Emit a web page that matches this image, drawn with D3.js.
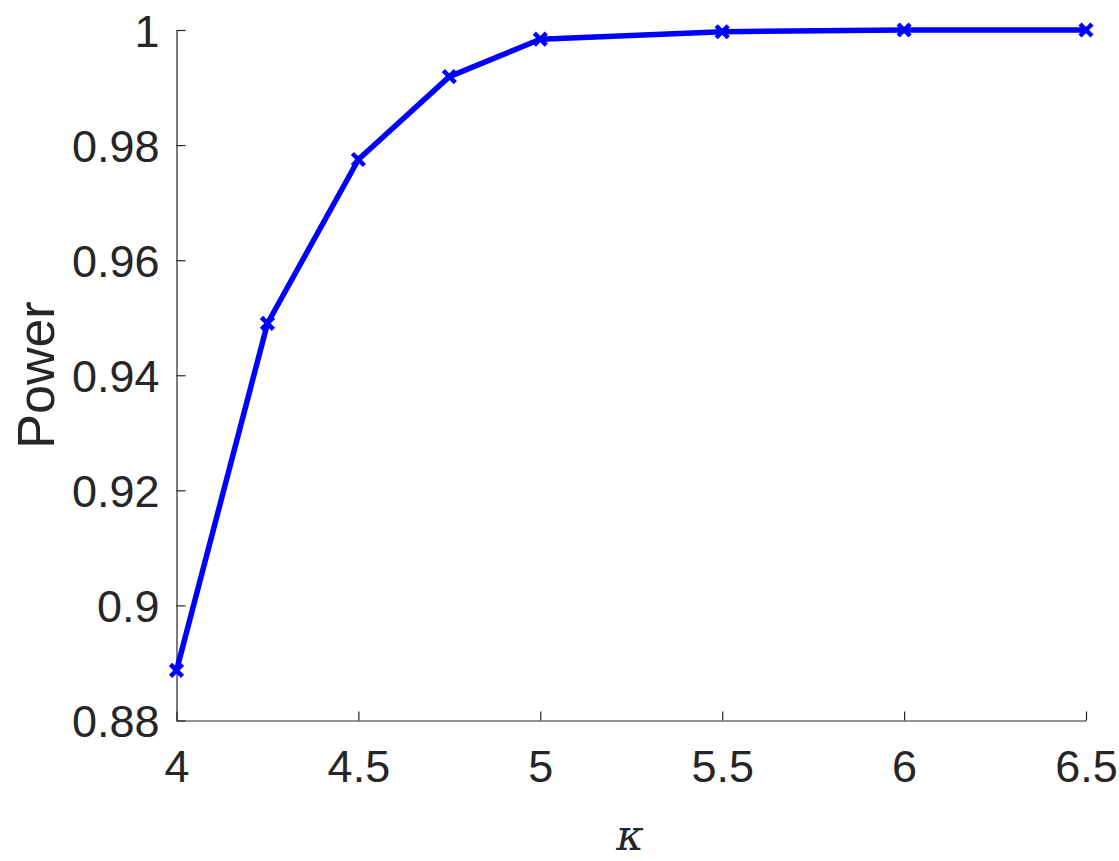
<!DOCTYPE html>
<html><head><meta charset="utf-8">
<script src="https://cdn.jsdelivr.net/npm/d3@7"></script>
<style>body{margin:0;background:#fff;} svg{display:block;}</style>
</head><body>
<script>
const kappa = [4, 4.25, 4.5, 4.75, 5, 5.5, 6, 6.5];
const power = [0.8887, 0.9490, 0.9775, 0.9919, 0.9984, 0.9997, 1.0, 1.0];
const xTicks = [4, 4.5, 5, 5.5, 6, 6.5];
const yTicks = [0.88, 0.9, 0.92, 0.94, 0.96, 0.98, 1];

const W = 1119, H = 861;
const svg = d3.select("body").append("svg").attr("width", W).attr("height", H);
const x = d3.scaleLinear().domain([4, 6.5]).range([176.5, 1086]);
const y = d3.scaleLinear().domain([0.88, 1]).range([720.5, 30]);
const axColor = "#262626";
const font = "'Liberation Sans', Arial, Helvetica, sans-serif";

const xAxis = svg.append("g").attr("transform", `translate(0,${y(0.88)})`)
  .call(d3.axisBottom(x).tickValues(xTicks).tickSizeInner(-9).tickSizeOuter(0).tickPadding(30)
    .tickFormat(d => d3.format("")(d)));
const yAxis = svg.append("g").attr("transform", `translate(${x(4)},0)`)
  .call(d3.axisLeft(y).tickValues(yTicks).tickSizeInner(-9).tickSizeOuter(0).tickPadding(17)
    .tickFormat(d => d3.format("")(d)));
[xAxis, yAxis].forEach(g => {
  g.select(".domain").attr("stroke", axColor).attr("stroke-width", 1.2);
  g.selectAll(".tick line").attr("stroke", axColor).attr("stroke-width", 1.2);
  g.selectAll(".tick text").attr("fill", axColor).style("font-family", font).style("font-size", "45px");
});
xAxis.selectAll(".tick text").attr("dy", "0.71em");
yAxis.selectAll(".tick text").attr("dy", "0.36em");

const data = kappa.map((k, i) => ({k, p: power[i]}));
svg.append("path").datum(data)
  .attr("fill", "none").attr("stroke", "#0000ff").attr("stroke-width", 5.5)
  .attr("stroke-linejoin", "round")
  .attr("d", d3.line().x(d => x(d.k)).y(d => y(d.p)));

const s = 6;
svg.append("g").selectAll("path.mk").data(data).join("path")
  .attr("class", "mk")
  .attr("d", d => {
    const cx = x(d.k), cy = y(d.p);
    return `M${cx - s},${cy - s}L${cx + s},${cy + s}M${cx - s},${cy + s}L${cx + s},${cy - s}`;
  })
  .attr("stroke", "#0000ff").attr("stroke-width", 4.5).attr("fill", "none");

svg.append("text").attr("transform", `translate(54,${(30 + 720) / 2}) rotate(-90)`)
  .attr("text-anchor", "middle").attr("fill", axColor)
  .style("font-family", font).style("font-size", "52px").text("Power");

svg.append("text").attr("x", 630).attr("y", 850).attr("text-anchor", "middle")
  .attr("fill", axColor).style("font-family", "'DejaVu Serif', 'Liberation Serif', serif")
  .style("font-style", "italic").style("font-size", "42px").text("κ");
</script>
</body></html>
